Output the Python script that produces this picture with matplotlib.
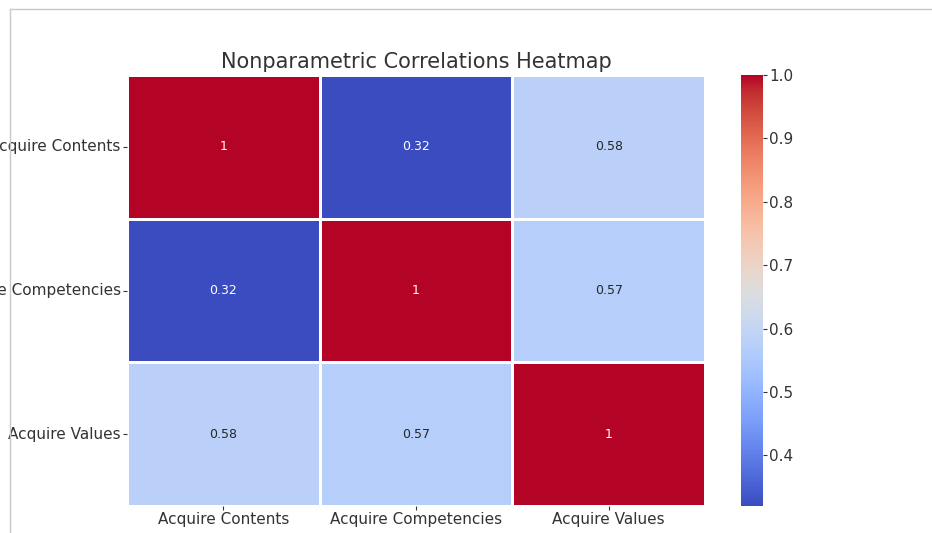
import matplotlib
matplotlib.use("Agg")
import matplotlib.pyplot as plt
import seaborn as sns
import numpy as np
import pandas as pd

labels = ["Acquire Contents", "Acquire Competencies", "Acquire Values"]
row_contents = [1.0, 0.32, 0.58]
row_competencies = [0.32, 1.0, 0.57]
row_values = [0.58, 0.57, 1.0]

corr = pd.DataFrame([row_contents, row_competencies, row_values],
                    index=labels, columns=labels)

W, H = 932, 533
fig = plt.figure(figsize=(W / 100, H / 100), dpi=100)
ax = fig.add_axes([127 / W, 1 - 506 / H, (705 - 127) / W, (506 - 75) / H])
cax = fig.add_axes([741 / W, 1 - 506 / H, (763 - 741) / W, (506 - 75) / H])

sns.heatmap(corr, annot=True, cmap="coolwarm", linewidths=1, linecolor="white",
            ax=ax, cbar_ax=cax, annot_kws={"fontsize": 9})

ax.set_title("Nonparametric Correlations Heatmap", fontsize=15, color="#333333", pad=5)
ax.tick_params(axis="both", labelsize=11, colors="#333333", length=3, pad=1.5)
ax.set_yticklabels(labels, rotation=0)
ax.set_xticklabels(labels, rotation=0)
cax.tick_params(labelsize=11, colors="#333333", length=3, pad=1.5)

# screenshot frame lines
fig.add_artist(plt.Line2D([10 / W, 1], [1 - 9 / H, 1 - 9 / H], color="#c8c8c8", lw=1))
fig.add_artist(plt.Line2D([10 / W, 10 / W], [0, 1 - 9 / H], color="#c8c8c8", lw=1))

fig.savefig("out.png", dpi=100)
